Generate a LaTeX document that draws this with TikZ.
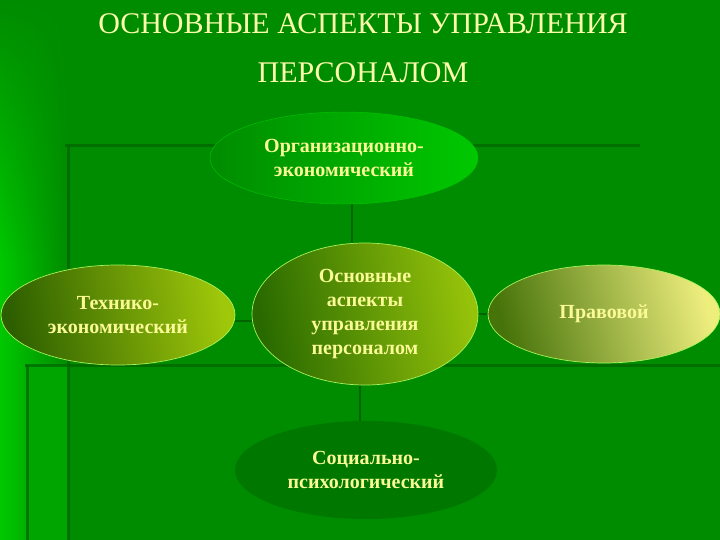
\documentclass[tikz,border=0pt]{standalone}
\usepackage{fontspec}
\setmainfont{Liberation Serif}
\usetikzlibrary{shapes.geometric}
\usetikzlibrary{fadings}
\pgfdeclarelayer{back}
\pgfsetlayers{back,main}
\definecolor{bgdark}{RGB}{0,140,0}
\definecolor{bgmid}{RGB}{0,165,0}
\definecolor{bglight}{RGB}{0,200,0}
\definecolor{frameline}{RGB}{0,100,0}
\definecolor{paletext}{RGB}{250,250,150}
\definecolor{lemon}{RGB}{238,238,125}
\definecolor{olivedark}{RGB}{45,95,0}
\definecolor{olivelight}{RGB}{160,200,10}
\definecolor{coredark}{RGB}{40,105,0}
\definecolor{corelight}{RGB}{150,195,10}
\definecolor{lawdark}{RGB}{70,115,10}

\begin{document}
\begin{tikzpicture}[x=1pt,y=-1pt,
    aspect/.style={ellipse,inner sep=0pt,align=center,text=paletext,
        font=\fontsize{20}{24}\selectfont\bfseries},
    rim/.style={draw=lemon!70!green,line width=0.7pt},
    link/.style={draw=frameline,line width=2pt},
    frame/.style={draw=frameline,line width=3pt,opacity=0.7}]
    \useasboundingbox (0,0) rectangle (720,540);
    % title
    \node[align=center,text=paletext!80!white,font=\fontsize{30}{49}\selectfont]
        (head) at (363,48) {ОСНОВНЫЕ АСПЕКТЫ УПРАВЛЕНИЯ\\ПЕРСОНАЛОМ};
    % ellipses
    \node[aspect,minimum width=268pt,minimum height=92pt,draw=bglight,
        left color=bgdark,right color=bglight] (org) at (344,158)
        {Организационно-\\экономический};
    \node[aspect,rim,minimum width=234pt,minimum height=100pt,
        left color=olivedark,right color=olivelight,shading angle=100]
        (tech) at (118,315) {Технико-\\экономический};
    \node[aspect,rim,minimum width=226pt,minimum height=142pt,
        left color=coredark,right color=corelight,shading angle=100]
        (core) at (365,314) {Основные\\аспекты\\управления\\персоналом};
    \node[aspect,rim,minimum width=232pt,minimum height=98pt,
        left color=lawdark,right color=lemon,shading angle=105]
        (law) at (604,314) {Правовой};
    \node[aspect,minimum width=262pt,minimum height=98pt,fill=green!47!black]
        (soc) at (366,470) {Социально-\\психологический};
    \begin{pgfonlayer}{back}
        \fill[bgdark] (0,0) rectangle (720,540);
        \shade[left color=bglight,right color=bgdark] (0,0) rectangle (68,540);
        \fill[bgdark,path fading=south] (0,0) rectangle (68,260);
        \fill[bgmid] (27,365) rectangle (68,540);
        \draw[frame] (65,146) -- (640,146);
        \draw[frame] (68,146) -- (68,540);
        \draw[frame] (25,365) -- (720,365);
        \draw[frame] (27,365) -- (27,540);
        % connectors
        \draw[link] ([xshift=8pt]org.south) -- ([xshift=8pt]org.south |- core.north);
        \draw[link] ([yshift=-6pt]tech.east) -- ([yshift=-6pt]tech.east -| core.west);
        \draw[link] (core.east) -- (law.west);
        \draw[link] ([xshift=-5pt]core.south) -- ([xshift=-5pt]core.south |- soc.north);
    \end{pgfonlayer}
\end{tikzpicture}
\end{document}
